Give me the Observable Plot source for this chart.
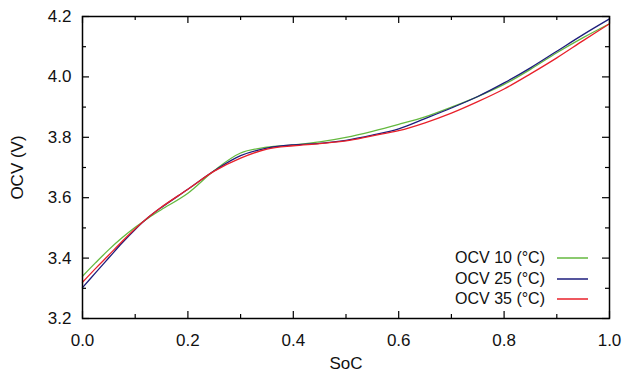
<!DOCTYPE html>
<html>
<head>
<meta charset="utf-8">
<script src="https://cdn.jsdelivr.net/npm/d3@7"></script>
<script src="https://cdn.jsdelivr.net/npm/@observablehq/plot@0.6"></script>
<style>
  html, body { margin: 0; padding: 0; background: #fff; }
  #wrap { position: relative; width: 625px; height: 376px; font-family: "Liberation Sans", Arial, sans-serif; }
  #legend { position: absolute; left: 0; top: 0; width: 625px; height: 376px; pointer-events: none; }
  .row { position: absolute; height: 20px; display: flex; align-items: center; }
  .lab { font-size: 16px; color: #111; text-align: right; white-space: nowrap; }
</style>
</head>
<body>
<div id="wrap"></div>
<script>
const soc   = [0,     0.025, 0.05,  0.075, 0.1,   0.125, 0.15,  0.2,   0.25,  0.3,   0.35,  0.4,   0.45,  0.5,   0.55,  0.6,   0.65,  0.7,   0.75,  0.8,   0.85,  0.9,   0.95,  1.0];
const ocv10 = [3.340, 3.385, 3.428, 3.467, 3.502, 3.533, 3.561, 3.615, 3.690, 3.748, 3.767, 3.775, 3.785, 3.800, 3.820, 3.843, 3.868, 3.900, 3.935, 3.975, 4.025, 4.080, 4.130, 4.176];
const ocv25 = [3.302, 3.352, 3.401, 3.450, 3.495, 3.535, 3.568, 3.628, 3.689, 3.739, 3.764, 3.775, 3.780, 3.790, 3.807, 3.828, 3.862, 3.897, 3.935, 3.980, 4.030, 4.085, 4.140, 4.192];
const ocv35 = [3.320, 3.366, 3.410, 3.455, 3.497, 3.535, 3.569, 3.628, 3.688, 3.731, 3.761, 3.772, 3.779, 3.788, 3.805, 3.822, 3.848, 3.880, 3.918, 3.960, 4.010, 4.063, 4.120, 4.176];
const seriesNames = ["OCV 10 (°C)", "OCV 25 (°C)", "OCV 35 (°C)"];
const seriesColors = ["#64b93f", "#1d1d7c", "#e8202a"];
const xMajor = [0, 0.2, 0.4, 0.6, 0.8, 1.0];
const xMinor = [0.1, 0.3, 0.5, 0.7, 0.9];
const yMajor = [3.2, 3.4, 3.6, 3.8, 4.0, 4.2];
const yMinor = [3.3, 3.5, 3.7, 3.9, 4.1];

const allSeries = [ocv10, ocv25, ocv35];
const rows = [];
allSeries.forEach((vals, i) => vals.forEach((v, j) => rows.push({soc: soc[j], ocv: v, series: seriesNames[i]})));

const W = 625, H = 376, mL = 82, mR = 16, mT = 16, mB = 58;
const fw = W - mL - mR, fh = H - mT - mB;
const majorLen = 7, minorLen = 4;

const chart = Plot.plot({
  width: W, height: H,
  marginLeft: mL, marginRight: mR, marginTop: mT, marginBottom: mB,
  style: { fontFamily: "Liberation Sans, Arial, sans-serif", fontSize: "17px", color: "#111", background: "#fff" },
  x: { domain: [0, 1] },
  y: { domain: [3.2, 4.2] },
  color: { domain: seriesNames, range: seriesColors },
  marks: [
    Plot.axisX({ ticks: xMajor, tickSize: 0, tickPadding: 15, tickFormat: d3.format(".1f"), label: "SoC", labelAnchor: "center", labelArrow: "none", labelOffset: 50 }),
    Plot.axisY({ ticks: yMajor, tickSize: 0, tickPadding: 11, tickFormat: d3.format(".1f"), label: "OCV (V)", labelAnchor: "center", labelArrow: "none", labelOffset: 72 }),
    Plot.tickX(xMajor, { x: d => d, insetTop: fh - majorLen, stroke: "#000", strokeWidth: 1.2 }),
    Plot.tickX(xMajor, { x: d => d, insetBottom: fh - majorLen, stroke: "#000", strokeWidth: 1.2 }),
    Plot.tickX(xMinor, { x: d => d, insetTop: fh - minorLen, stroke: "#000", strokeWidth: 1.2 }),
    Plot.tickX(xMinor, { x: d => d, insetBottom: fh - minorLen, stroke: "#000", strokeWidth: 1.2 }),
    Plot.tickY(yMajor, { y: d => d, insetRight: fw - majorLen, stroke: "#000", strokeWidth: 1.2 }),
    Plot.tickY(yMajor, { y: d => d, insetLeft: fw - majorLen, stroke: "#000", strokeWidth: 1.2 }),
    Plot.tickY(yMinor, { y: d => d, insetRight: fw - minorLen, stroke: "#000", strokeWidth: 1.2 }),
    Plot.tickY(yMinor, { y: d => d, insetLeft: fw - minorLen, stroke: "#000", strokeWidth: 1.2 }),
    Plot.line(rows, { x: "soc", y: "ocv", stroke: "series", z: "series", strokeWidth: 1.3, curve: "catmull-rom" }),
    Plot.frame({ stroke: "#000", strokeWidth: 1.5 })
  ]
});

const wrap = document.getElementById("wrap");
wrap.appendChild(chart);

// legend overlay (inside plot area, bottom-right)
const leg = document.createElement("div");
leg.id = "legend";
const legTop = [248, 269, 289];
seriesNames.forEach((name, i) => {
  const row = document.createElement("div");
  row.className = "row";
  row.style.top = legTop[i] + "px";
  row.style.right = (W - 588) + "px";
  row.innerHTML = `<span class="lab">${name}</span><svg width="31" height="20" style="margin-left:12px"><line x1="0" x2="31" y1="10" y2="10" stroke="${seriesColors[i]}" stroke-width="1.5"/></svg>`;
  leg.appendChild(row);
});
wrap.appendChild(leg);
</script>
</body>
</html>
